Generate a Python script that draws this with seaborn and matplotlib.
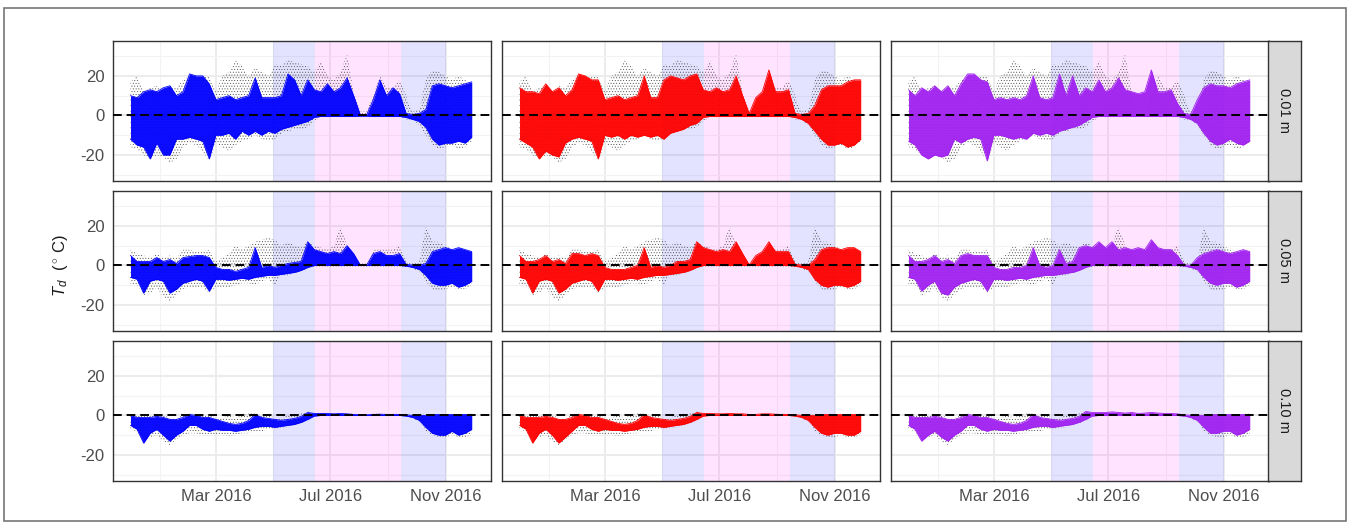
import matplotlib

matplotlib.use("Agg")
import matplotlib.dates as mdates
import matplotlib.pyplot as plt
import numpy as np
import pandas as pd
import seaborn as sns
from matplotlib.patches import Rectangle

# weekly sampling of the daily envelope (upper / lower) of each series
WEEKS = pd.date_range("2015-12-01", periods=53, freq="7D")
DEPTHS = ["0.01 m", "0.05 m", "0.10 m"]
MODEL_COLORS = ["#0000FF", "#FF0000", "#A020F0"]
X_TICKS = ["2016-03-01", "2016-07-01", "2016-11-01"]
X_MINOR = ["2016-01-01", "2016-05-01", "2016-09-01"]
Y_TICKS = [-20, 0, 20]
Y_MINOR = [-30, -10, 10, 30]
SEASONS = [("2016-05-01", "2016-06-15", "#0000FF"),
           ("2016-06-15", "2016-09-15", "#FF00FF"),
           ("2016-09-15", "2016-11-01", "#0000FF")]

# ---- 0.01 m ----
BLUE_HI_01 = [10, 9, 12, 13, 12, 14, 15, 10, 12, 21, 20, 20, 16, 8, 9, 10, 8, 9, 10, 19, 9, 9, 9, 10, 21, 18,
              10, 18, 13, 12, 16, 12, 14, 19, 10, 0.5, 0.5, 8, 18, 10, 14, 11, 1, 0.5, 1, 3, 15, 16, 15, 14, 15, 16, 17]
BLUE_LO_01 = [-12, -15, -16, -22, -14, -20, -20, -12, -12, -11, -12, -13, -22, -10, -10, -9, -12, -8, -10, -8, -10,
              -8, -9, -7, -6, -5, -4, -3, -1, -0.5, -0.5, -0.5, -0.5, -0.5, -0.5, -0.3, -0.3, -0.5, -0.5, -0.5, -0.5,
              -0.5, -1, -2, -3, -6, -12, -15, -14, -14, -13, -14, -11]
RED_HI_01 = [14, 12, 12, 11, 16, 12, 14, 10, 13, 21, 20, 18, 18, 8, 9, 10, 8, 9, 10, 20, 9, 9, 18, 20, 19, 18,
             20, 21, 13, 12, 14, 12, 13, 20, 10, 1, 9, 12, 23, 12, 12, 13, 1, 0.5, 1, 5, 13, 15, 15, 15, 17, 18, 18]
RED_LO_01 = [-12, -14, -16, -22, -18, -20, -21, -14, -12, -11, -12, -13, -22, -10, -11, -10, -12, -10, -11, -10,
             -11, -10, -12, -9, -8, -7, -5, -4, -1, -0.5, -0.5, -0.5, -0.5, -0.5, -0.5, -0.5, -0.5, -0.5, -0.5, -0.5,
             -0.5, -0.5, -1, -2, -4, -8, -12, -15, -15, -14, -16, -15, -12]
PURPLE_HI_01 = [13, 10, 14, 12, 15, 12, 15, 10, 16, 21, 21, 18, 17, 8, 9, 8, 9, 8, 10, 20, 9, 8, 9, 21, 10, 20,
                10, 14, 12, 18, 12, 14, 19, 13, 12, 11, 12, 23, 12, 12, 13, 6, 1, 0.5, 8, 14, 16, 15, 15, 14, 16, 17, 18]
PURPLE_LO_01 = [-13, -15, -20, -22, -20, -21, -20, -12, -14, -12, -11, -12, -23, -10, -10, -11, -12, -11, -12, -9,
                -10, -9, -10, -8, -7, -6, -5, -3, -1, -0.5, -0.5, -0.5, -0.5, -0.5, -0.5, -0.5, -0.5, -0.5, -0.5,
                -0.5, -0.5, -0.5, -1, -2, -4, -9, -13, -15, -14, -12, -14, -15, -13]
OBS_HI_01 = [17, 20, 12, 14, 15, 12, 15, 14, 18, 20, 18, 20, 20, 12, 20, 22, 28, 25, 20, 24, 22, 20, 26, 25, 28,
             27, 26, 25, 22, 28, 20, 18, 22, 31, 12, 2, 2, 10, 20, 14, 14, 18, 10, 2, 3, 18, 23, 22, 20, 18, 20, 18, 15]
OBS_LO_01 = [-16, -17, -20, -22, -20, -21, -24, -22, -16, -14, -15, -18, -23, -14, -16, -18, -15, -13, -12, -10,
             -12, -13, -12, -9, -8, -7, -7, -6, -3, -1, -1, -1, -1, -1, -1, -1, -1, -1, -1, -1, -1, -1, -2, -2, -5,
             -10, -15, -17, -16, -15, -17, -16, -13]

# ---- 0.05 m ----
BLUE_HI_05 = [5, 2, 2, 2, 4, 2, 3, 1, 4, 4.5, 5, 5, 4, -1, -2, -2, -3, -2, -1, 9, -1, 0, -1, 0, 1, 1.5, 2, 12,
              8, 7, 6, 7, 6, 10, 6, 0.3, 0.3, 6, 7, 5, 5, 6, 0.5, 0.2, 0, 1, 7, 8, 9, 8, 9, 8, 7]
BLUE_LO_05 = [-6, -7, -14, -8, -7, -8, -14, -12, -9, -8, -7, -8, -13, -7, -7, -7.5, -7, -6.5, -7, -6, -5.5, -5,
              -5, -4.5, -4, -3.5, -2.5, -1, 0, 0, 0, 0, 0, 0, 0, 0, 0, 0, 0, 0, 0, 0, -0.3, -1, -2, -5, -9, -10,
              -10, -9, -11, -10, -8]
RED_HI_05 = [5, 2, 2, 3, 5, 2, 3, 1, 6, 6, 5, 6, 5, -1, -2, -2, -2, -1, 0, 9, -1, 0, -1, 0, 2, 2, 3, 12, 9, 8,
             7, 8, 7, 12, 6, 0.3, 5, 7, 12, 7, 7, 7, 0.5, 0.2, 0, 3, 8, 9, 9, 8, 9, 9, 7]
RED_LO_05 = [-6, -7, -14, -8, -7, -8, -14, -12, -9, -8, -7, -8, -13, -7, -7, -7.5, -7, -6.5, -7, -6, -5.5, -5,
             -5, -4.5, -4, -3.5, -2.5, -1, 0, 0, 0, 0, 0, 0, 0, 0, 0, 0, 0, 0, 0, 0, -0.3, -1, -2, -7, -10, -11,
             -10, -10, -11, -10, -8]
PURPLE_HI_05 = [5, 2, 2, 3, 5, 2, 3, 1, 5, 6, 5, 5, 5, -1, -2, -2, -1, -1, 0, 9, 0, -1, 0, 8, 1, 2, 9, 10, 9,
                12, 9, 12, 8, 9, 8, 9, 8, 13, 9, 8, 8, 5, 0.3, 0, 4, 6, 7, 8, 7, 6, 7, 8, 7]
PURPLE_LO_05 = [-6, -7, -13, -10, -8, -14, -15, -11, -9, -8, -7, -8, -13, -7, -7, -7.5, -7, -6.5, -7, -6, -5.5,
                -5, -5, -4.5, -4, -3.5, -2.5, -1, 0, 0, 0, 0, 0, 0, 0, 0, 0, 0, 0, 0, 0, 0, -0.3, -1, -2, -6, -9,
                -10, -9, -9, -11, -10, -8]
OBS_HI_05 = [8, 6, 5, 4, 6, 4, 5, 4, 8, 8, 7, 7, 8, 2, 4, 6, 10, 8, 10, 12, 13, 14, 13, 10, 12, 10, 9, 12, 10, 9,
             8, 10, 20, 10, 6, 1, 1, 8, 8, 8, 8, 10, 2, 1, 2, 20, 12, 12, 10, 8, 7, 6, 5]
OBS_LO_05 = [-10, -10, -15, -14, -11, -16, -18, -15, -12, -11, -11, -11, -14, -11, -11, -11, -10, -9, -9, -10, -8,
             -7, -10, -5, -5, -4, -3, -1.5, -0.5, -0.5, -0.5, -0.5, -0.5, -0.5, -0.5, -0.5, -0.5, -0.5, -0.5, -0.5,
             -0.5, -0.5, -1, -1.5, -3, -8, -12, -13, -12, -11, -12, -12, -10]

# ---- 0.10 m ----
BLUE_HI_10 = [0, -1, -1, -1, -0.5, -1, -2, -2, -1, 0.5, 0, -1, -1, -2, -3, -4, -4.5, -4, -2.5, 0.5, -1, -1.5, -2,
              -2.5, -2, -1.5, -0.5, 1.5, 1, 1, 1, 0.8, 1, 0.8, 0.5, 0.3, 0.3, 0.5, 0.6, 0.5, 0.5, 0.5, 0.3, 0, 0, 0,
              0.5, 0.5, 0.5, 0.5, 0.5, 0.5, 0.5]
BLUE_LO_10 = [-5, -7, -14, -9, -7, -10, -13, -10, -8, -5, -5, -7, -8, -7, -7.5, -7.5, -8, -7.5, -7, -6, -5.5,
              -5.5, -6, -5.5, -5, -4.5, -3.5, -2, -0.3, 0, 0, 0, 0, 0, 0, 0, 0, 0, 0, 0, 0, 0, -0.3, -1, -2.5, -6,
              -9, -10, -10, -8, -10, -9, -7]
RED_HI_10 = [0, -1, -1, -1, -0.5, -1, -2, -2, -1, 0.5, 0, -1, -1, -2, -3, -4, -4.5, -4, -2.5, 0.5, -1, -1.5, -2,
             -2.5, -2, -1.5, -0.5, 1.5, 1, 1, 0.8, 0.8, 1, 0.8, 0.8, 0.5, 0.5, 0.8, 0.8, 0.6, 0.5, 0.5, 0.3, 0, 0, 0,
             0.5, 0.5, 0.5, 0.5, 0.5, 0.5, 0.5]
RED_LO_10 = [-5, -7, -14, -9, -7, -10, -14, -11, -8, -5, -5, -7, -8, -7, -7.5, -7.5, -8, -7.5, -7, -6, -5.5, -5.5,
             -6, -5.5, -5, -4.5, -3.5, -2, -0.3, 0, 0, 0, 0, 0, 0, 0, 0, 0, 0, 0, 0, 0, -0.3, -1, -2.5, -6, -9,
             -10, -9, -9, -10, -10, -8]
PURPLE_HI_10 = [0, -1, -1, -1, -0.5, -1, -2, -2, -1, 0.5, 0, -1, -1, -2, -3, -4, -4.5, -4, -2.5, 0.5, -1, -1.5, -2,
                -2.5, -2, -1.5, -0.5, 2, 1.5, 1.5, 1.5, 1.8, 1.5, 1.2, 1.5, 1, 1.2, 1.5, 1.2, 1, 1, 0.8, 0.3, 0, 0,
                0, 0.5, 0.5, 0.5, 0.5, 0.5, 0.5, 0.5]
PURPLE_LO_10 = [-5, -7, -13, -10, -8, -11, -13, -10, -8, -5, -5, -7, -8, -7, -7.5, -7.5, -8, -7.5, -7, -6, -5.5,
                -5.5, -6, -5.5, -5, -4.5, -3.5, -2, -0.3, 0, 0, 0, 0, 0, 0, 0, 0, 0, 0, 0, 0, 0, -0.3, -1, -2.5, -6,
                -9, -9, -8, -8, -10, -9, -7]
OBS_HI_10 = [0.5, 0, 0, 0, 0, 0, -1, -1, 0, 1, 0.5, 0, 0, -1, -1, 0, -1, 0, 1, 1, 0, 0, -1, -1, 0, 0.5, 1, 2, 1.5,
             1.2, 1, 1, 1, 1, 0.8, 0.5, 0.5, 0.8, 1, 0.8, 0.8, 0.8, 0.5, 0.3, 0.3, 0.5, 0.5, 0.5, 0.5, 0.8, 0.5, 0.5, 1]
OBS_LO_10 = [-7, -8, -13, -11, -10, -13, -15, -12, -10, -9, -9, -10, -10, -10, -10, -10.5, -10, -9, -9, -8, -8, -7,
             -7, -6, -6, -5, -4, -2.5, -0.5, -0.3, -0.3, -0.3, -0.3, -0.3, -0.3, -0.3, -0.3, -0.3, -0.3, -0.3, -0.3,
             -0.3, -0.5, -1.5, -3, -8, -10, -11, -11, -10, -11, -11, -10]

MODELS = [
    [(BLUE_HI_01, BLUE_LO_01), (RED_HI_01, RED_LO_01), (PURPLE_HI_01, PURPLE_LO_01)],
    [(BLUE_HI_05, BLUE_LO_05), (RED_HI_05, RED_LO_05), (PURPLE_HI_05, PURPLE_LO_05)],
    [(BLUE_HI_10, BLUE_LO_10), (RED_HI_10, RED_LO_10), (PURPLE_HI_10, PURPLE_LO_10)],
]
OBS = [(OBS_HI_01, OBS_LO_01), (OBS_HI_05, OBS_LO_05), (OBS_HI_10, OBS_LO_10)]

sns.set_theme(style="whitegrid")
plt.rcParams["font.family"] = ["Liberation Sans", "DejaVu Sans"]
plt.rcParams["mathtext.fontset"] = "custom"
plt.rcParams["mathtext.rm"] = "Liberation Sans"
plt.rcParams["mathtext.it"] = "Liberation Sans:italic"
plt.rcParams["axes.unicode_minus"] = False
plt.rcParams["hatch.linewidth"] = 0.35

W, H = 1352, 525
fig = plt.figure(figsize=(W / 100, H / 100), dpi=100)
fig.patch.set_facecolor("white")

col_x = [112.7, 501.7, 890.7]
row_y = [40.7, 190.7, 340.7]
pw, ph = 377.8, 140

xlim = (pd.Timestamp("2015-11-12"), pd.Timestamp("2016-12-19"))

for r in range(3):
    for c in range(3):
        ax = fig.add_axes([col_x[c] / W, 1 - (row_y[r] + ph) / H, pw / W, ph / H])
        ax.set_facecolor("white")
        ax.set_axisbelow(True)
        ax.set_xticks(pd.to_datetime(X_TICKS))
        ax.set_xticks(pd.to_datetime(X_MINOR), minor=True)
        ax.set_yticks(Y_TICKS)
        ax.set_yticks(Y_MINOR, minor=True)
        ax.grid(which="major", color="#EBEBEB", linewidth=1.3)
        ax.grid(which="minor", color="#F3F3F3", linewidth=0.8)

        for start, end, shade in SEASONS:
            ax.axvspan(pd.Timestamp(start), pd.Timestamp(end), color=shade, alpha=0.11, lw=0, zorder=1)

        hi_o, lo_o = OBS[r]
        ax.fill_between(WEEKS, lo_o, hi_o, facecolor="none", edgecolor="#4a4a4a", hatch="......",
                        linewidth=0, zorder=2)

        hi, lo = MODELS[r][c]
        color = MODEL_COLORS[c]
        ax.fill_between(WEEKS, lo, hi, color=color, alpha=0.95, linewidth=0, zorder=3)
        sns.lineplot(x=WEEKS, y=hi, color=color, linewidth=0.6, ax=ax, zorder=3)
        sns.lineplot(x=WEEKS, y=lo, color=color, linewidth=0.6, ax=ax, zorder=3)

        ax.axhline(0, color="black", linestyle=(0, (4.5, 2.5)), linewidth=1.4, zorder=5)

        ax.set_xlim(*xlim)
        ax.set_ylim(-33, 37.8)
        ax.set_xlabel("")
        ax.set_ylabel("")
        for sp in ax.spines.values():
            sp.set_color("#333333")
            sp.set_linewidth(1.0)
            sp.set_visible(True)

        ax.xaxis.set_major_formatter(mdates.DateFormatter("%b %Y"))
        ax.tick_params(which="minor", length=0)
        ax.tick_params(axis="both", which="major", length=4, width=0.9, color="#333333",
                       labelcolor="#4D4D4D", labelsize=12, pad=2)
        if r < 2:
            ax.tick_params(axis="x", which="major", length=0, labelbottom=False)
        if c > 0:
            ax.tick_params(axis="y", which="major", length=0, labelleft=False)

    sax = fig.add_axes([1268.3 / W, 1 - (row_y[r] + ph) / H, 32.4 / W, ph / H])
    sax.set_facecolor("#D9D9D9")
    sax.set_xticks([])
    sax.set_yticks([])
    sax.grid(False)
    for sp in sax.spines.values():
        sp.set_color("#333333")
        sp.set_linewidth(1.0)
        sp.set_visible(True)
    sax.text(0.5, 0.5, DEPTHS[r], rotation=-90, ha="center", va="center", fontsize=10.5,
             color="#1A1A1A", transform=sax.transAxes)

fig.text(60 / W, 1 - 265 / H, r"$T_d\ \ (^\circ\,\mathrm{C})$", rotation=90, ha="center", va="center",
         fontsize=12, color="#1A1A1A")

fig.patches.append(Rectangle((4 / W, 1 - 521 / H), 1342 / W, 513 / H, transform=fig.transFigure,
                             fill=False, edgecolor="#777777", linewidth=1.2))

fig.savefig("out.png", dpi=100, facecolor="white")
